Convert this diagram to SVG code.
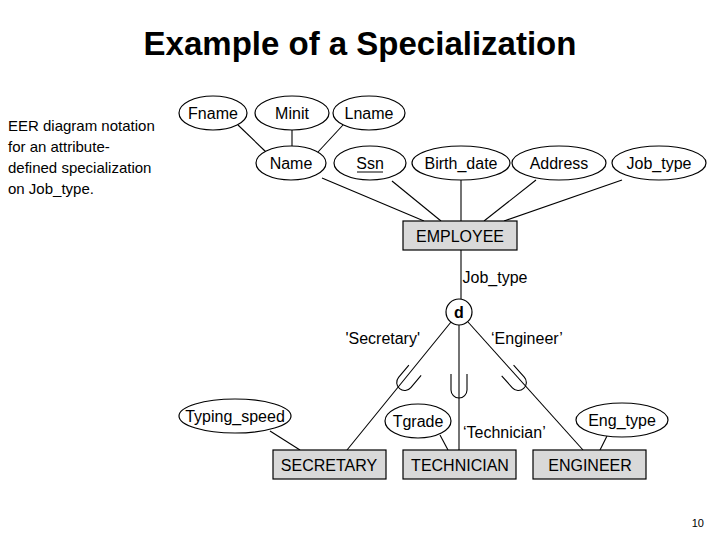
<svg xmlns="http://www.w3.org/2000/svg" width="720" height="540" viewBox="0 0 720 540">
<style>
text{font-family:"Liberation Sans",Arial,sans-serif;fill:#000}
.a{font-size:16px;text-anchor:middle}
.l{font-size:15px}
ellipse,circle{fill:#fff;stroke:#000;stroke-width:1.2}
rect{fill:#d9d9d9;stroke:#000;stroke-width:1.2}
#connectors line,#connectors path{stroke:#000;stroke-width:1.1;fill:none}
</style>
<rect x="0" y="0" width="720" height="540" style="fill:#fff;stroke:none"/>
<text x="360" y="55" style="font-size:33px;font-weight:bold;text-anchor:middle">Example of a Specialization</text>
<text class="l" x="8" y="131">EER diagram notation</text>
<text class="l" x="8" y="152">for an attribute-</text>
<text class="l" x="8" y="173">defined specialization</text>
<text class="l" x="8" y="194">on Job_type.</text>
<text x="704" y="527" style="font-size:11px;text-anchor:end">10</text>
<g id="connectors">
<line x1="238" y1="125" x2="266" y2="152"/>
<line x1="292" y1="130" x2="292" y2="146"/>
<line x1="343" y1="125" x2="318" y2="152"/>
<line x1="322" y1="178" x2="424" y2="221"/>
<line x1="392" y1="181" x2="441" y2="221"/>
<line x1="461" y1="180" x2="461" y2="221"/>
<line x1="536" y1="180" x2="484" y2="221"/>
<line x1="622" y1="180" x2="504" y2="221"/>
<line x1="461" y1="250" x2="461" y2="299"/>
<line x1="451" y1="322" x2="347" y2="450"/>
<line x1="459" y1="325" x2="459" y2="450"/>
<line x1="468" y1="322" x2="583" y2="450"/>
<line x1="270" y1="431" x2="300" y2="450"/>
<line x1="440" y1="435" x2="448" y2="450"/>
<line x1="607" y1="436" x2="600" y2="450"/>
<path d="M451 374 V390 A8 8 0 0 0 467 390 V374"/>
<path d="M-8 -14 V2 A8 8 0 0 0 8 2 V-14" transform="translate(406 381) rotate(40)"/>
<path d="M-8 -14 V2 A8 8 0 0 0 8 2 V-14" transform="translate(517 381) rotate(-42)"/>
</g>
<g id="fname"><ellipse cx="213" cy="113" rx="34" ry="17"/><text class="a" x="213" y="119">Fname</text></g>
<g id="minit"><ellipse cx="292" cy="113" rx="37" ry="17"/><text class="a" x="292" y="119">Minit</text></g>
<g id="lname"><ellipse cx="369" cy="113" rx="36" ry="17"/><text class="a" x="369" y="119">Lname</text></g>
<g id="name"><ellipse cx="291" cy="163" rx="35" ry="17"/><text class="a" x="291" y="169">Name</text></g>
<g id="ssn"><ellipse cx="370" cy="163" rx="36" ry="17"/><text class="a" x="370" y="169">Ssn</text><line x1="357" y1="172" x2="383" y2="172" style="stroke:#000;stroke-width:1"/></g>
<g id="birth"><ellipse cx="461" cy="163" rx="49" ry="17"/><text class="a" x="461" y="169">Birth_date</text></g>
<g id="address"><ellipse cx="559" cy="163" rx="47" ry="17"/><text class="a" x="559" y="169">Address</text></g>
<g id="jobtype"><ellipse cx="659" cy="163" rx="47" ry="17"/><text class="a" x="659" y="169">Job_type</text></g>
<g id="employee"><rect x="403" y="221" width="114" height="29"/><text class="a" x="460" y="242">EMPLOYEE</text></g>
<text class="a" x="495" y="283">Job_type</text>
<g id="d"><circle cx="459" cy="312" r="13"/><text class="a" x="459" y="318" style="font-weight:bold">d</text></g>
<text x="420" y="344" style="font-size:16px;text-anchor:end">'Secretary'</text>
<text x="491" y="344" style="font-size:16px">‘Engineer’</text>
<text x="463" y="438" style="font-size:16px">‘Technician’</text>
<g id="typing"><ellipse cx="235" cy="416" rx="56" ry="17"/><text class="a" x="235" y="422">Typing_speed</text></g>
<g id="tgrade"><ellipse cx="418" cy="421" rx="33" ry="17"/><text class="a" x="418" y="427">Tgrade</text></g>
<g id="engtype"><ellipse cx="622" cy="420" rx="46" ry="17"/><text class="a" x="622" y="426">Eng_type</text></g>
<g id="secretary"><rect x="273" y="450" width="113" height="29"/><text class="a" x="329" y="471">SECRETARY</text></g>
<g id="technician"><rect x="403" y="450" width="113" height="29"/><text class="a" x="460" y="471">TECHNICIAN</text></g>
<g id="engineer"><rect x="533" y="450" width="113" height="29"/><text class="a" x="590" y="471">ENGINEER</text></g>
</svg>
